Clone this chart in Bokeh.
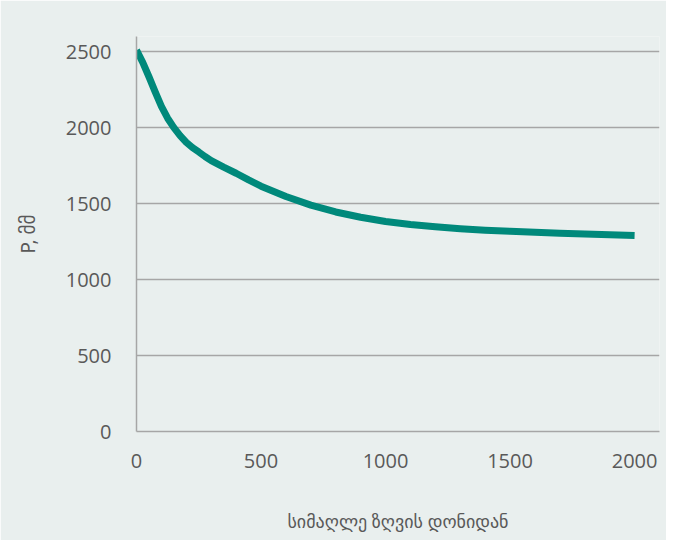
from bokeh.plotting import figure
from bokeh.models import Range1d, FixedTicker
from bokeh.embed import file_html
from bokeh.resources import INLINE

# Data
altitude = [0, 25, 50, 75, 100, 125, 150, 175, 200, 225, 250, 275, 300, 350,
            400, 450, 500, 600, 700, 800, 900, 1000, 1100, 1200, 1300, 1400,
            1500, 1600, 1700, 1800, 1900, 2000]
pressure = [2510, 2430, 2335, 2235, 2140, 2062, 2000, 1948, 1903, 1868, 1840,
            1810, 1783, 1740, 1700, 1656, 1615, 1547, 1490, 1445, 1410, 1382,
            1362, 1347, 1335, 1325, 1318, 1311, 1305, 1300, 1295, 1290]
x_ticks = [0, 500, 1000, 1500, 2000]
y_ticks = [0, 500, 1000, 1500, 2000, 2500]
x_label = "სიმაღლე ზღვის დონიდან"
y_label = "P, მმ"

BG = "#E9EFEE"
GRID = "#A6A6A6"
TXT = "#595959"
LINE = "#00897B"

p = figure(width=666, height=540, output_backend="svg", toolbar_location=None,
           x_range=Range1d(0, 2100), y_range=Range1d(0, 2600),
           min_border_left=136, min_border_right=7, min_border_top=36,
           min_border_bottom=109)
p.background_fill_color = BG
p.border_fill_color = BG
p.outline_line_color = None

p.line(altitude, pressure, line_width=7, line_color=LINE, line_join="round")

p.xgrid.grid_line_color = None
p.ygrid.grid_line_color = GRID
p.ygrid.grid_line_width = 1.5

for ax in (p.xaxis[0], p.yaxis[0]):
    ax.axis_line_color = GRID
    ax.axis_line_width = 1.5
    ax.major_tick_line_color = None
    ax.minor_tick_line_color = None
    ax.major_tick_out = 0
    ax.major_tick_in = 0
    ax.major_label_text_font = "Open Sans"
    ax.major_label_text_font_size = "20px"
    ax.major_label_text_color = TXT
    ax.axis_label_text_font = "'Noto Sans', 'DejaVu Sans'"
    ax.axis_label_text_font_style = "normal"
    ax.axis_label_text_color = TXT

p.xaxis.axis_label_text_font_size = "18px"
p.yaxis.axis_label_text_font_size = "19px"
p.xaxis.ticker = FixedTicker(ticks=x_ticks)
p.yaxis.ticker = FixedTicker(ticks=y_ticks)
p.xaxis.major_label_standoff = 22
p.yaxis.major_label_standoff = 25
p.xaxis.axis_label = x_label
p.yaxis.axis_label = y_label
p.xaxis.axis_label_standoff = 38
p.yaxis.axis_label_standoff = 22

open("out.html", "w").write(file_html(p, INLINE))
